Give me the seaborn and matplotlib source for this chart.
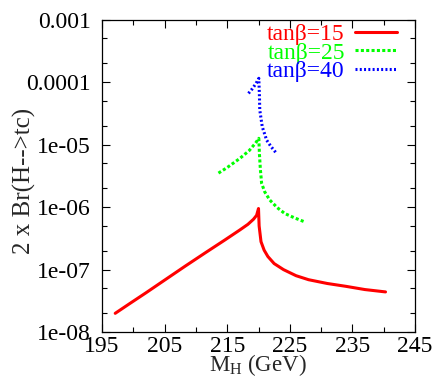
import numpy as np
import pandas as pd
import matplotlib
matplotlib.use("Agg")
import matplotlib.pyplot as plt
import seaborn as sns
from matplotlib.ticker import FixedLocator, FixedFormatter, LogLocator, NullFormatter, MultipleLocator

# values (M_H in GeV, 2 x Br(H->tc))
red_mh = [197.1, 199.5, 202.0, 205.0, 208.3, 211.5, 214.6, 217.0, 218.3, 219.2, 219.7, 220.0,
          220.1, 220.4, 220.9, 221.5, 222.5, 224.0, 226.0, 228.0, 231.0, 234.0, 237.0, 240.3]
red_br = [2.0e-8, 2.9e-8, 4.25e-8, 6.8e-8, 1.14e-7, 1.86e-7, 2.97e-7, 4.3e-7, 5.3e-7, 6.4e-7, 7.4e-7, 9.5e-7,
          5.0e-7, 2.8e-7, 2.05e-7, 1.62e-7, 1.25e-7, 1.0e-7, 8.0e-8, 6.9e-8, 6.0e-8, 5.4e-8, 4.8e-8, 4.4e-8]

green_mh = [213.6, 215.0, 217.0, 218.5, 219.5, 220.05, 220.15, 220.3, 220.5, 221.0,
            221.8, 223.0, 224.2, 225.8, 227.4]
green_br = [3.5e-6, 4.3e-6, 6.0e-6, 8.0e-6, 1.05e-5, 1.26e-5, 7.0e-6, 4.0e-6, 2.4e-6, 1.75e-6,
            1.3e-6, 9.8e-7, 7.9e-7, 6.7e-7, 5.8e-7]

blue_mh = [218.4, 219.0, 219.6, 220.05, 220.15, 220.2, 220.6, 221.3, 222.0, 222.8]
blue_br = [6.6e-5, 7.8e-5, 9.5e-5, 1.15e-4, 6.0e-5, 3.6e-5, 1.93e-5, 1.18e-5, 9.3e-6, 7.4e-6]

series_labels = ["tanβ=15", "tanβ=25", "tanβ=40"]
xtick_vals = [195, 205, 215, 225, 235, 245]
ytick_vals = [1e-8, 1e-7, 1e-6, 1e-5, 1e-4, 1e-3]
ytick_labels = ["1e-08", "1e-07", "1e-06", "1e-05", "0.0001", "0.001"]

sns.set_style("ticks")
plt.rcParams["font.family"] = ["Liberation Serif", "DejaVu Serif"]
plt.rcParams["mathtext.fontset"] = "custom"
plt.rcParams["mathtext.rm"] = "Liberation Serif"
plt.rcParams["mathtext.it"] = "Liberation Serif:italic"

fig = plt.figure(figsize=(4.4, 3.77), dpi=100)
ax = fig.add_axes([0.232, 0.119, 0.711, 0.829])

styles = [
    ("#ff0000", 2.2, "-"),
    ("#00ff00", 2.2, (0, (1.0, 0.75))),
    ("#0000ff", 2.2, (0, (0.65, 0.75))),
]
data = [(red_mh, red_br), (green_mh, green_br), (blue_mh, blue_br)]
for (mh, br), lab, (col, lw, ls) in zip(data, series_labels, styles):
    df = pd.DataFrame({"mh": mh, "br": br})
    sns.lineplot(data=df, x="mh", y="br", color=col, linewidth=lw, linestyle=ls,
                 label=lab, sort=False, estimator=None, ax=ax)

ax.set_yscale("log")
ax.set_xlim(195, 245)
ax.set_ylim(1e-8, 1e-3)

ax.xaxis.set_major_locator(FixedLocator(xtick_vals))
ax.xaxis.set_minor_locator(MultipleLocator(5))
ax.yaxis.set_major_locator(FixedLocator(ytick_vals))
ax.yaxis.set_major_formatter(FixedFormatter(ytick_labels))
ax.yaxis.set_minor_locator(LogLocator(base=10, subs=(2.0, 5.0)))
ax.yaxis.set_minor_formatter(NullFormatter())

ax.tick_params(which="both", direction="in", top=True, right=True, labelsize=17,
               width=0.8, colors="black")
ax.tick_params(which="major", length=6)
ax.tick_params(axis="y", which="major", pad=8)
ax.tick_params(axis="x", which="major", pad=3)
ax.tick_params(which="minor", length=3.5)
for s in ax.spines.values():
    s.set_linewidth(0.9)
    s.set_color("black")

ax.set_xlabel("M$_\\mathrm{H}$ (GeV)", fontsize=16.5)
ax.xaxis.set_label_coords(0.498, -0.064)
ax.set_ylabel("2 x Br(H-->tc)", fontsize=18)
ax.yaxis.set_label_coords(-0.212, 0.485)

leg = ax.legend(loc="upper right", bbox_to_anchor=(0.942, 0.988), frameon=False,
                markerfirst=False, fontsize=17, handlelength=1.75, handletextpad=0.45,
                labelspacing=-0.12, borderpad=0, borderaxespad=0)
for txt, (col, _, _) in zip(leg.get_texts(), styles):
    txt.set_color(col)

fig.savefig("out.png", dpi=100)
